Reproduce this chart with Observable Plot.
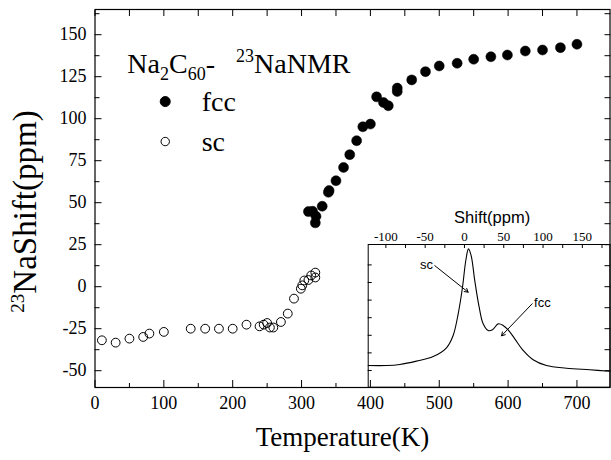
<!DOCTYPE html>
<html><head><meta charset="utf-8">
<script src="https://cdn.jsdelivr.net/npm/d3@7"></script>
<script src="https://cdn.jsdelivr.net/npm/@observablehq/plot@0.6"></script>
<style>
html,body{margin:0;padding:0;background:#fff;}
#wrap{position:relative;width:611px;height:460px;overflow:hidden;background:#fff;}
#wrap svg{position:absolute;overflow:visible;}
</style></head><body><div id="wrap"></div>
<script>
// ---- main data: 23Na NMR shift vs temperature ----
const fccT = [310, 316, 321, 320, 330, 339, 340, 350, 361, 370, 380, 389, 400, 409, 419, 426, 439, 439, 460, 480, 500, 526, 550, 575, 599, 625, 650, 676, 700];
const fccShift = [44.7, 44.9, 41.9, 38, 47.9, 56.2, 57.2, 63.1, 71, 78.6, 86.9, 95.2, 96.8, 113, 109.6, 107.7, 118.2, 116.2, 123.1, 128, 131.4, 133, 135.4, 136.9, 137.9, 140.3, 140.9, 142.3, 144.3];
const scT = [10, 30, 50, 70, 79, 100, 139, 160, 180, 200, 220, 239, 245, 250, 254, 259, 270, 280, 289, 299, 301, 304, 310, 314, 320, 320];
const scShift = [-31.9, -33.3, -30.9, -29.9, -27.9, -26.9, -25, -25, -25, -25, -22.6, -23.6, -22.6, -21.6, -24.3, -24.3, -21, -16, -7.1, -1.2, 0.8, 3.7, 4, 6.7, 8.4, 5.5];

// ---- inset data: NMR spectrum ----
const specShift = [-122.5, -99.2, -82.3, -61.1, -39.8, -22.9, -14.4, -8.0, -2.5, 1.7, 5.1, 8.5, 13.1, 18.7, 23.8, 30.2, 35.6, 42.9, 49.2, 55.6, 64.0, 74.7, 87.4, 104.3, 129.8, 159.4, 185];
const specIntensity = [1.28, 1.28, 1.34, 1.53, 1.79, 2.29, 2.99, 4.22, 5.73, 7.25, 7.91, 7.53, 6.11, 4.60, 3.65, 3.27, 3.31, 3.65, 3.56, 3.31, 2.80, 2.14, 1.61, 1.28, 1.13, 1.04, 0.96];

// ---- ticks ----
const xMajorTicks = [0, 100, 200, 300, 400, 500, 600, 700];
const xMinorTicks = [50, 150, 250, 350, 450, 550, 650];
const xTopTicks = [0, 50, 100, 150, 200, 250, 300, 350, 400, 450, 500, 550, 600, 650, 700];
const yMajorTicks = [-50, -25, 0, 25, 50, 75, 100, 125, 150];
const yMinorTicks = [-37.5, -12.5, 12.5, 37.5, 62.5, 87.5, 112.5, 137.5, 162.5];
const yRightTicks = [-50, -37.5, -25, -12.5, 0, 12.5, 25, 37.5, 50, 62.5, 75, 87.5, 100, 112.5, 125, 137.5, 150, 162.5];
const insetLabelTicks = [-100, -50, 0, 50, 100, 150];
const insetTopTicks = [-100, -75, -50, -25, 0, 25, 50, 75, 100, 125, 150, 175];
const insetLeftTicks = [1, 2, 3, 4, 5, 6, 7];

// ---- legend / annotations ----
const legendLabels = ["fcc", "sc"];
const legendFill = ["black", "none"];
const legendR = [5, 4.2];
const legendMarkT = [102, 102];
const legendMarkShift = [110.2, 86.4];
const legendTextT = [155, 155];
const legendTextShift = [110.2, 86.3];
const titleT = [47];
const titleShift = [132.8];
const insetNotes = ["sc", "fcc"];
const insetNoteShift = [-48.3, 99.2];
const insetNoteI = [7.02, 4.86];
const arrowFromShift = [-37.8, 86.1];
const arrowFromI = [6.96, 4.79];
const arrowToShift = [4.7, 47.1];
const arrowToI = [5.45, 2.97];

const serif = "Liberation Serif";
const sans = "Liberation Sans";

const fcc = fccT.map((t, i) => ({t, s: fccShift[i]}));
const sc = scT.map((t, i) => ({t, s: scShift[i]}));
const legend = legendLabels.map((l, i) => ({l, f: legendFill[i], r: legendR[i], mt: legendMarkT[i], ms: legendMarkShift[i], tt: legendTextT[i], ts: legendTextShift[i]}));
const spectrum = specShift.map((x, i) => ({x, y: specIntensity[i]}));
const notes = insetNotes.map((n, i) => ({n, x: insetNoteShift[i], y: insetNoteI[i], x1: arrowFromShift[i], y1: arrowFromI[i], x2: arrowToShift[i], y2: arrowToI[i]}));

const main = Plot.plot({
  width: 611, height: 460,
  marginLeft: 94.5, marginRight: 1.5, marginTop: 9, marginBottom: 73,
  style: {fontFamily: serif, color: "black", background: "transparent"},
  x: {domain: [0, 748]},
  y: {domain: [-60, 165]},
  r: {type: "identity"},
  marks: [
    Plot.frame({stroke: "black", strokeWidth: 1.2}),
    Plot.axisX(xMajorTicks, {anchor: "bottom", tickSize: 7, dy: -7, fill: "none", label: null}),
    Plot.axisX(xMinorTicks, {anchor: "bottom", tickSize: 4, dy: -4, fill: "none", label: null}),
    Plot.axisX(xTopTicks, {anchor: "top", tickSize: 6, dy: 6, fill: "none", label: null}),
    Plot.axisX(xMajorTicks, {anchor: "bottom", tickSize: 0, tickPadding: 9, tickFormat: d => String(d), fontSize: 18, fontFamily: serif, label: null}),
    Plot.axisY(yMajorTicks, {anchor: "left", tickSize: 7, dx: 7, fill: "none", label: null}),
    Plot.axisY(yMinorTicks, {anchor: "left", tickSize: 5, dx: 5, fill: "none", label: null}),
    Plot.axisY(yRightTicks, {anchor: "right", tickSize: 6, dx: -6, fill: "none", label: null}),
    Plot.axisY(yMajorTicks, {anchor: "left", tickSize: 0, tickPadding: 8.5, tickFormat: d => String(d), fontSize: 18, fontFamily: serif, label: null}),
    Plot.dot(sc, {x: "t", y: "s", r: 4.4, stroke: "black", fill: "none", strokeWidth: 1}),
    Plot.dot(fcc, {x: "t", y: "s", r: 5, fill: "black", stroke: "black", strokeWidth: 0.5}),
    Plot.dot(legend, {x: "mt", y: "ms", r: "r", fill: "f", stroke: "black", strokeWidth: 1}),
    Plot.text(legend, {x: "tt", y: "ts", text: "l", textAnchor: "start", lineAnchor: "middle", fontSize: 28, fontFamily: serif, fill: "black"}),
    Plot.text(titleT, {x: d => d, y: (d, i) => titleShift[i], text: () => "Na2C60- 23NaNMR", textAnchor: "start", lineAnchor: "middle", fontSize: 28, fontFamily: serif, fill: "black", className: "richtitle"}),
    Plot.text(["Temperature(K)"], {text: d => d, frameAnchor: "bottom", textAnchor: "middle", lineAnchor: "middle", dx: -10, dy: 50, fontSize: 27, fontFamily: serif, fill: "black"}),
    Plot.text(["23NaShift(ppm)"], {text: d => d, frameAnchor: "left", rotate: -90, textAnchor: "middle", lineAnchor: "middle", dx: -69.5, dy: 13, fontSize: 33, fontFamily: serif, fill: "black", className: "richy"})
  ]
});
main.style.left = "0px"; main.style.top = "0px";

const inset = Plot.plot({
  width: 245, height: 194,
  marginLeft: 1.7, marginRight: 1.5, marginTop: 50, marginBottom: 1.3,
  style: {fontFamily: serif, color: "black", background: "transparent"},
  x: {domain: [-122.5, 185.2]},
  y: {domain: [0.05, 8.16]},
  marks: [
    Plot.frame({stroke: "black", strokeWidth: 1}),
    Plot.axisX(insetTopTicks, {anchor: "top", tickSize: 3, dy: 3, fill: "none", label: null}),
    Plot.axisX(insetLabelTicks, {anchor: "top", tickSize: 0, tickPadding: 4, tickFormat: d => String(d), fontSize: 13, fontFamily: serif, label: null}),
    Plot.axisY(insetLeftTicks, {anchor: "left", tickSize: 4, dx: 4, fill: "none", label: null}),
    Plot.line(spectrum, {x: "x", y: "y", curve: "catmull-rom", stroke: "black", strokeWidth: 1.1}),
    Plot.text(["Shift(ppm)"], {text: d => d, frameAnchor: "top", dx: 3, dy: -33, fontSize: 16.5, fontFamily: sans, fill: "black"}),
    Plot.text(notes, {x: "x", y: "y", text: "n", fontSize: 13, fontFamily: sans, fill: "black"}),
    Plot.arrow(notes, {x1: "x1", y1: "y1", x2: "x2", y2: "y2", stroke: "black", strokeWidth: 1, headLength: 6})
  ]
});
inset.style.left = "366px"; inset.style.top = "194px";

const wrap = document.getElementById("wrap");
wrap.appendChild(main);
wrap.appendChild(inset);

function richify(svg, cls, parts) {
  const t = svg.querySelector(`g.${cls} text`);
  if (!t) return;
  t.textContent = "";
  let cur = 0;
  for (const [s, off, size] of parts) {
    const ts = document.createElementNS("http://www.w3.org/2000/svg", "tspan");
    ts.setAttribute("dy", String(off - cur));
    cur = off;
    if (size) ts.setAttribute("font-size", size);
    ts.textContent = s;
    t.appendChild(ts);
  }
}
richify(main, "richtitle", [["Na", 0], ["2", 7, 18], ["C", 0], ["60", 7, 18], ["-\u00a0\u00a0\u00a0", 0], ["23", -11, 18], ["NaNMR", 0]]);
richify(main, "richy", [["23", -12, 19], ["NaShift(ppm)", 0]]);
</script>
</body></html>
